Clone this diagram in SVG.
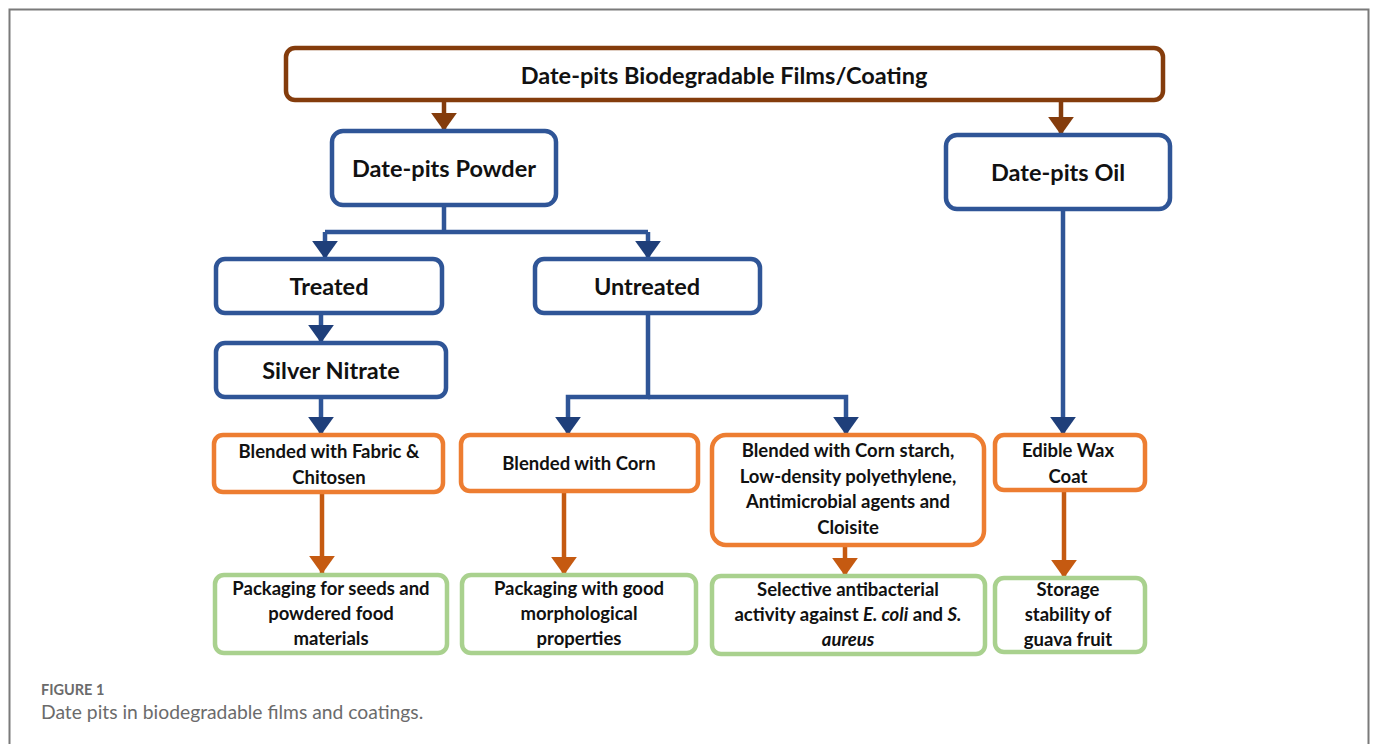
<svg xmlns="http://www.w3.org/2000/svg" width="1373" height="744" viewBox="0 0 1373 744">
<defs>
<style>
.t{font-family:Lato,"Liberation Sans",sans-serif;font-weight:bold;fill:#111;text-anchor:middle}
.big{font-size:23.5px}
.sm{font-size:18.5px}
.box{fill:#fff;stroke-width:4.5}
.brown{stroke:#843C0C}
.blue{stroke:#2F5597}
.orange{stroke:#ED7D31}
.green{stroke:#A9D18E}
.lb{fill:none;stroke:#2F5597;stroke-width:4.5}
.lbr{fill:none;stroke:#843C0C;stroke-width:4.5}
.lo{fill:none;stroke:#C55A11;stroke-width:4.5}
</style>
<marker id="hb" viewBox="0 0 7 10" refX="7" refY="5" markerWidth="4.1" markerHeight="5.8" markerUnits="strokeWidth" orient="auto"><path d="M0,0L7,5L0,10Z" fill="#1F3F7A"/></marker>
<marker id="hbr" viewBox="0 0 7 10" refX="7" refY="5" markerWidth="4.1" markerHeight="5.8" markerUnits="strokeWidth" orient="auto"><path d="M0,0L7,5L0,10Z" fill="#843C0C"/></marker>
<marker id="ho" viewBox="0 0 7 10" refX="7" refY="5" markerWidth="4.1" markerHeight="5.8" markerUnits="strokeWidth" orient="auto"><path d="M0,0L7,5L0,10Z" fill="#C55A11"/></marker>
</defs>
<rect width="1373" height="744" fill="#fff"/>
<path d="M9.5,744V9.5H1368.5V744" fill="none" stroke="#7a7a7a" stroke-width="2"/>

<g id="connectors">
<path class="lbr" d="M444,100V131" marker-end="url(#hbr)"/>
<path class="lbr" d="M1061,100V135" marker-end="url(#hbr)"/>
<path class="lb" d="M444,205V232" />
<path class="lb" d="M325,232H648" />
<path class="lb" d="M325,232V259" marker-end="url(#hb)"/>
<path class="lb" d="M648,232V259" marker-end="url(#hb)"/>
<path class="lb" d="M321,313V343" marker-end="url(#hb)"/>
<path class="lb" d="M321,397V435" marker-end="url(#hb)"/>
<path class="lb" d="M648,313V397H568V435" marker-end="url(#hb)"/>
<path class="lb" d="M648,397H846V435" marker-end="url(#hb)"/>
<path class="lb" d="M1063,209V435" marker-end="url(#hb)"/>
<path class="lo" d="M322,492V574" marker-end="url(#ho)"/>
<path class="lo" d="M564,491V575" marker-end="url(#ho)"/>
<path class="lo" d="M845,545V576" marker-end="url(#ho)"/>
<path class="lo" d="M1064,490V578" marker-end="url(#ho)"/>
</g>

<g id="n-top"><rect class="box brown" x="286" y="48" width="877" height="52" rx="9"/><text class="t big" x="724" y="84">Date-pits Biodegradable Films/Coating</text></g>
<g id="n-powder"><rect class="box blue" x="332" y="131" width="224" height="74" rx="11"/><text class="t big" x="444" y="177">Date-pits Powder</text></g>
<g id="n-oil"><rect class="box blue" x="946" y="135" width="224" height="74" rx="11"/><text class="t big" x="1058" y="181">Date-pits Oil</text></g>
<g id="n-treated"><rect class="box blue" x="216" y="259" width="226" height="54" rx="9"/><text class="t big" x="329" y="295">Treated</text></g>
<g id="n-untreated"><rect class="box blue" x="535" y="259" width="225" height="54" rx="9"/><text class="t big" x="647" y="295">Untreated</text></g>
<g id="n-silver"><rect class="box blue" x="216" y="343" width="230" height="54" rx="9"/><text class="t big" x="331" y="379">Silver Nitrate</text></g>

<g id="n-fabric"><rect class="box orange" x="214" y="435" width="229" height="57" rx="9"/><text class="t sm" x="329" y="458">Blended with Fabric &amp;</text><text class="t sm" x="329" y="484">Chitosen</text></g>
<g id="n-corn"><rect class="box orange" x="461" y="435" width="237" height="56" rx="9"/><text class="t sm" x="579" y="470">Blended with Corn</text></g>
<g id="n-cornstarch"><rect class="box orange" x="712" y="435" width="272" height="110" rx="14"/><text class="t sm" x="848" y="457">Blended with Corn starch,</text><text class="t sm" x="848" y="483">Low-density polyethylene,</text><text class="t sm" x="848" y="508">Antimicrobial agents and</text><text class="t sm" x="848" y="534">Cloisite</text></g>
<g id="n-wax"><rect class="box orange" x="995" y="435" width="150" height="55" rx="9"/><text class="t sm" x="1068" y="457">Edible Wax</text><text class="t sm" x="1068" y="483">Coat</text></g>

<g id="n-seeds"><rect class="box green" x="215" y="575" width="232" height="78" rx="9"/><text class="t sm" x="331" y="595">Packaging for seeds and</text><text class="t sm" x="331" y="620">powdered food</text><text class="t sm" x="331" y="645">materials</text></g>
<g id="n-morph"><rect class="box green" x="462" y="575" width="234" height="78" rx="9"/><text class="t sm" x="579" y="595">Packaging with good</text><text class="t sm" x="579" y="620">morphological</text><text class="t sm" x="579" y="645">properties</text></g>
<g id="n-antibac"><rect class="box green" x="712" y="576" width="273" height="78" rx="9"/><text class="t sm" x="848" y="596">Selective antibacterial</text><text class="t sm" x="848" y="621">activity against <tspan font-style="italic">E. coli</tspan> and <tspan font-style="italic">S.</tspan></text><text class="t sm" x="848" y="646" font-style="italic">aureus</text></g>
<g id="n-guava"><rect class="box green" x="995" y="578" width="150" height="74" rx="9"/><text class="t sm" x="1068" y="596">Storage</text><text class="t sm" x="1068" y="621">stability of</text><text class="t sm" x="1068" y="646">guava fruit</text></g>

<text x="41" y="695" font-family="Lato,'Open Sans',sans-serif" font-weight="bold" font-size="14.5" fill="#6b6b6b">FIGURE 1</text>
<text x="41" y="719" font-family="Lato,'Open Sans',sans-serif" font-size="19.3" fill="#6b6b6b">Date pits in biodegradable films and coatings.</text>
</svg>
